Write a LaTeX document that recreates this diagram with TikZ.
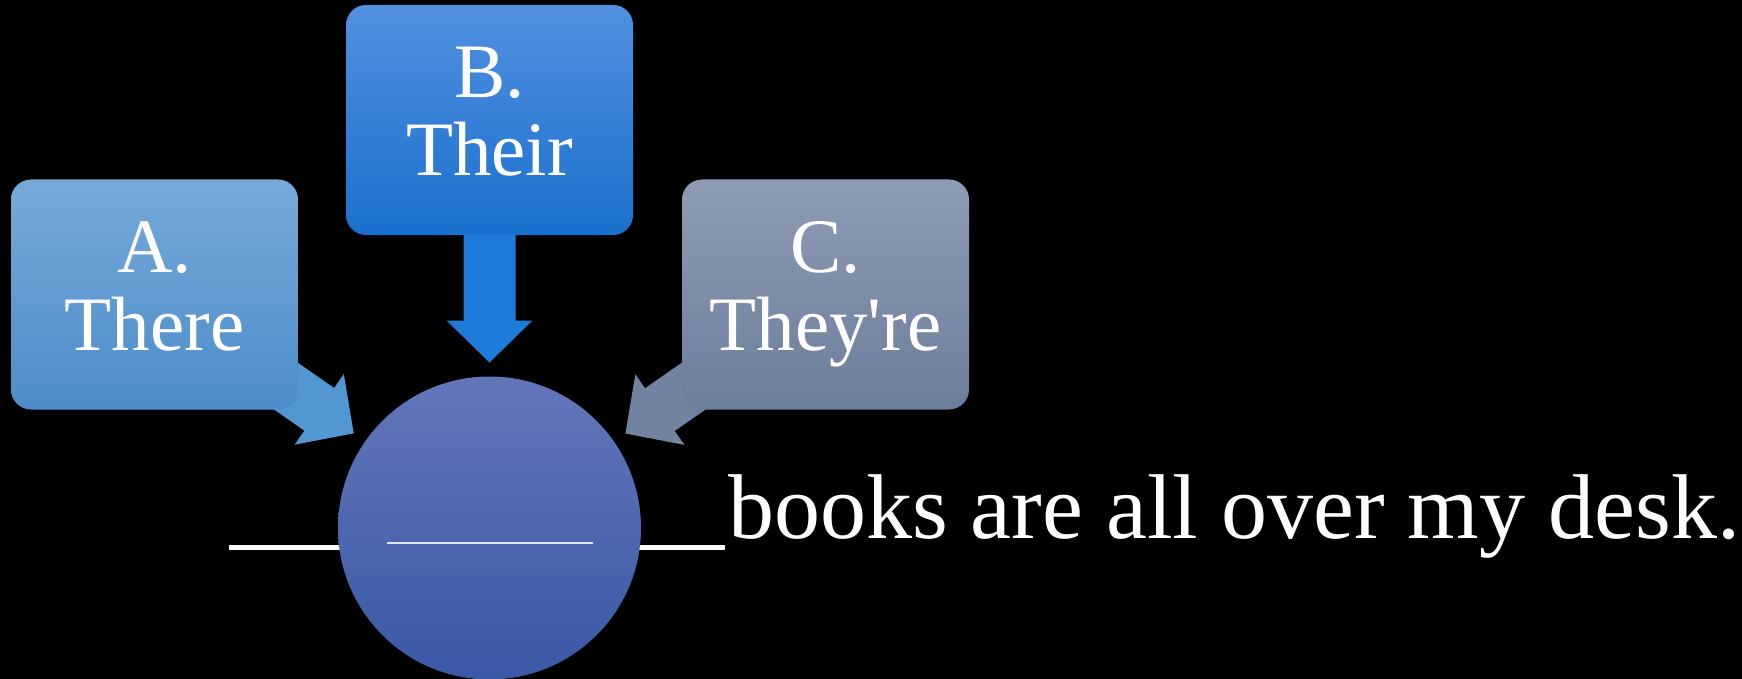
\documentclass[tikz,border=0pt]{standalone}
\usepackage{fontspec}
\setmainfont{Liberation Serif}[Ligatures=TeXOff]
\usetikzlibrary{calc}

\definecolor{thereTop}{RGB}{118,169,216}
\definecolor{thereBot}{RGB}{76,141,202}
\definecolor{thereArr}{RGB}{82,150,210}
\definecolor{theirTop}{RGB}{82,144,224}
\definecolor{theirBot}{RGB}{26,112,206}
\definecolor{theirArr}{RGB}{31,123,218}
\definecolor{theyTop}{RGB}{142,155,180}
\definecolor{theyBot}{RGB}{108,126,155}
\definecolor{theyArr}{RGB}{114,131,160}
\definecolor{gapTop}{RGB}{100,118,186}
\definecolor{gapBot}{RGB}{57,88,165}
\definecolor{gapLine}{RGB}{222,228,242}

\pgfdeclarelayer{back}
\pgfdeclarelayer{under}
\pgfsetlayers{back,under,main}

% block arrow from a box centre to its tip
\newcommand{\quizarrow}[3]{%
  \coordinate (#2-neck) at ($(#2)!42pt!(#1.center)$);
  \fill[#3] ($(#1.center)!26pt!90:(#2)$) -- ($(#2-neck)!26pt!90:(#2)$)
    -- ($(#2-neck)!43pt!90:(#2)$) -- (#2)
    -- ($(#2-neck)!43pt!-90:(#2)$) -- ($(#2-neck)!26pt!-90:(#2)$)
    -- ($(#1.center)!26pt!-90:(#2)$) -- cycle;}

\begin{document}
\begin{tikzpicture}[x=1pt, y=-1pt,
    choice/.style={rectangle, rounded corners=20pt, minimum width=287pt,
      minimum height=230pt, inner sep=0pt, text=white, align=center,
      text depth=17pt, font=\fontsize{77}{78}\selectfont}]
  \begin{pgfonlayer}{back}
    \fill[black] (0,0) rectangle (1742,679);
  \end{pgfonlayer}
  \useasboundingbox (0,0) rectangle (1742,679);

  \node[choice, top color=thereTop, bottom color=thereBot] (optA) at (154.5,294.5) {A.\\There};
  \node[choice, top color=theirTop, bottom color=theirBot] (optB) at (489.5,120) {B.\\Their};
  \node[choice, top color=theyTop, bottom color=theyBot] (optC) at (825.5,294.5) {C.\\They're};
  \node[circle, minimum size=303pt, inner sep=0pt,
    top color=gapTop, bottom color=gapBot] (blank) at (489.5,528) {};

  % arrows stop 14pt short of the circle
  \coordinate (tipA) at ($(blank.center)!165.5pt!(optA.center)$);
  \coordinate (tipB) at ($(blank.center)!165.5pt!(optB.center)$);
  \coordinate (tipC) at ($(blank.center)!165.5pt!(optC.center)$);
  \coordinate (gapL) at (229,547.5);
  \coordinate (gapR) at (725,547.5);
  \begin{pgfonlayer}{under}
    \quizarrow{optA}{tipA}{thereArr}
    \quizarrow{optB}{tipB}{theirArr}
    \quizarrow{optC}{tipC}{theyArr}
    \draw[white, line width=5pt] (gapL) -- (gapR);
  \end{pgfonlayer}

  \coordinate (fillL) at (387,543);
  \coordinate (fillR) at (593,543);
  \draw[gapLine, line width=1.5pt] (fillL) -- (fillR);
  \node[anchor=base west, inner sep=0pt, text=white,
    font=\fontsize{92}{100}\selectfont] (sentence) at (728,538)
    {books are all over my desk.};
\end{tikzpicture}
\end{document}
